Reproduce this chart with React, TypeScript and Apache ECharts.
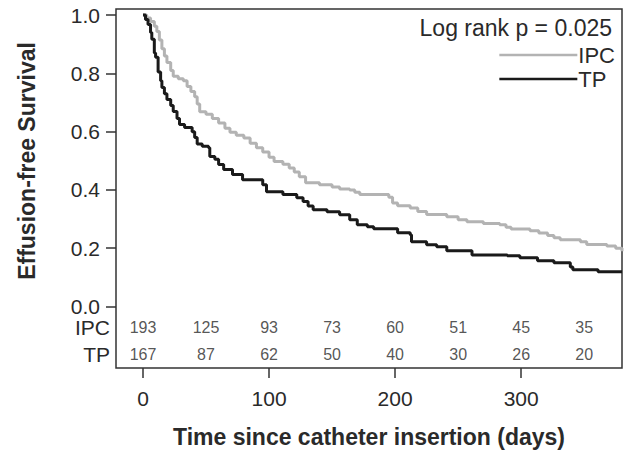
import React, { useEffect, useRef } from "react";
import * as echarts from "echarts";

// Kaplan-Meier steps (time in days, survival)
const ipcTimes = [0, 3, 6, 9, 11, 13, 15, 17, 19, 22, 24, 28, 32, 35, 38, 41, 43, 45, 50, 55, 60, 65, 69, 74, 80, 85, 90, 95, 100, 104, 111, 116, 120, 124, 129, 140, 150, 156, 164, 168, 172, 195, 198, 202, 212, 218, 225, 241, 250, 257, 270, 283, 288, 292, 307, 314, 321, 326, 331, 347, 352, 368, 375, 380];
const ipcSurv = [1.0, 0.99, 0.978, 0.962, 0.944, 0.915, 0.885, 0.86, 0.837, 0.81, 0.79, 0.782, 0.775, 0.755, 0.738, 0.72, 0.695, 0.668, 0.66, 0.645, 0.63, 0.612, 0.598, 0.588, 0.578, 0.56, 0.545, 0.53, 0.512, 0.498, 0.488, 0.475, 0.462, 0.445, 0.425, 0.418, 0.41, 0.403, 0.4, 0.392, 0.384, 0.375, 0.355, 0.346, 0.338, 0.326, 0.316, 0.308, 0.298, 0.291, 0.285, 0.281, 0.272, 0.266, 0.26, 0.252, 0.244, 0.236, 0.229, 0.222, 0.213, 0.208, 0.2, 0.19];

const tpTimes = [0, 2, 4, 6, 7, 9, 10, 12, 14, 15, 17, 19, 22, 24, 27, 29, 33, 39, 41, 43, 47, 52, 53, 57, 60, 64, 71, 79, 95, 98, 111, 122, 127, 131, 135, 146, 156, 164, 170, 178, 183, 202, 212, 213, 225, 233, 241, 261, 289, 299, 313, 326, 339, 341, 361, 380];
const tpSurv = [1.0, 0.985, 0.968, 0.94, 0.917, 0.87, 0.855, 0.805, 0.775, 0.752, 0.73, 0.71, 0.69, 0.669, 0.645, 0.625, 0.614, 0.6, 0.58, 0.558, 0.55, 0.545, 0.515, 0.505, 0.487, 0.47, 0.453, 0.435, 0.418, 0.394, 0.384, 0.373, 0.36, 0.345, 0.332, 0.325, 0.315, 0.298, 0.281, 0.274, 0.267, 0.253, 0.246, 0.222, 0.212, 0.205, 0.191, 0.177, 0.174, 0.167, 0.157, 0.15, 0.136, 0.126, 0.119, 0.119];

// Number at risk table
const riskTimes = [0, 50, 100, 150, 200, 250, 300, 350];
const ipcRisk = [193, 125, 93, 73, 60, 51, 45, 35];
const tpRisk = [167, 87, 62, 50, 40, 30, 26, 20];
const riskRowY = { IPC: -0.073, TP: -0.166 };

const xTicks = [0, 100, 200, 300];
const yTicks = [0, 0.2, 0.4, 0.6, 0.8, 1.0];

const seriesNames = ["IPC", "TP"];
const pValueText = "Log rank p = 0.025";
const xTitle = "Time since catheter insertion (days)";
const yTitle = "Effusion-free Survival";

const FONT = "'Liberation Sans', Arial, Helvetica, sans-serif";
const TXT = "#2a2a2a";

export default function App() {
  const ref = useRef<HTMLDivElement>(null);

  useEffect(() => {
    if (!ref.current) return;
    const chart = echarts.init(ref.current, undefined, { renderer: "svg" });

    const ipcData = ipcTimes.map((t, i) => [t, ipcSurv[i]]);
    const tpData = tpTimes.map((t, i) => [t, tpSurv[i]]);
    const riskData = [
      ...riskTimes.map((t, i) => [t, riskRowY.IPC, ipcRisk[i]]),
      ...riskTimes.map((t, i) => [t, riskRowY.TP, tpRisk[i]]),
    ];

    chart.setOption({
      animation: false,
      backgroundColor: "#ffffff",
      textStyle: { fontFamily: FONT, color: TXT },
      title: {
        text: pValueText,
        right: 20,
        top: 11,
        textStyle: { fontFamily: FONT, fontSize: 23, fontWeight: "normal", color: TXT },
      },
      legend: {
        data: seriesNames,
        orient: "vertical",
        right: 22,
        top: 43,
        padding: 0,
        icon: "rect",
        itemWidth: 78,
        itemHeight: 2.5,
        itemGap: 0,
        align: "left",
        textStyle: { fontFamily: FONT, fontSize: 22, lineHeight: 24, color: TXT, padding: [0, 0, 0, -4] },
      },
      grid: {
        left: 116,
        right: 15,
        top: 9,
        bottom: 92,
        show: true,
        borderColor: "#333",
        borderWidth: 1.5,
        backgroundColor: "transparent",
      },
      xAxis: {
        type: "value",
        min: -21.4,
        max: 380,
        axisLine: { show: false, onZero: false },
        splitLine: { show: false },
        axisTick: {
          show: true,
          inside: false,
          length: 10,
          customValues: xTicks,
          lineStyle: { color: "#333", width: 1.5 },
        },
        axisLabel: {
          customValues: xTicks,
          margin: 20,
          fontFamily: FONT,
          fontSize: 21,
          color: TXT,
        },
        name: xTitle,
        nameLocation: "middle",
        nameGap: 57,
        nameTextStyle: { fontFamily: FONT, fontSize: 23, fontWeight: "bold", color: TXT },
      },
      yAxis: {
        type: "value",
        min: -0.211,
        max: 1.021,
        axisLine: { show: false, onZero: false },
        splitLine: { show: false },
        axisTick: {
          show: true,
          inside: false,
          length: 10,
          customValues: yTicks,
          lineStyle: { color: "#333", width: 1.5 },
        },
        axisLabel: {
          customValues: [riskRowY.TP, riskRowY.IPC, ...yTicks],
          margin: 6,
          fontFamily: FONT,
          fontSize: 21,
          color: TXT,
          formatter: (v: number) => {
            if (v < -0.12) return "{r|TP}";
            if (v < -0.01) return "{r|IPC}";
            return "{n|" + v.toFixed(1) + "}";
          },
          rich: {
            n: { fontFamily: FONT, fontSize: 21, color: TXT, padding: [0, 10, 0, 0] },
            r: { fontFamily: FONT, fontSize: 21, color: TXT },
          },
        },
      },
      graphic: [
        {
          type: "text",
          x: 27,
          y: 161,
          rotation: Math.PI / 2,
          style: {
            text: yTitle,
            fontFamily: FONT,
            fontSize: 23,
            fontWeight: "bold",
            fill: TXT,
            align: "center",
            verticalAlign: "middle",
          },
        },
      ],
      series: [
        {
          name: "IPC",
          type: "line",
          step: "end",
          data: ipcData,
          symbol: "none",
          lineStyle: { color: "#b3b3b3", width: 3 },
          itemStyle: { color: "#b3b3b3" },
          z: 3,
        },
        {
          name: "TP",
          type: "line",
          step: "end",
          data: tpData,
          symbol: "none",
          lineStyle: { color: "#1a1a1a", width: 3 },
          itemStyle: { color: "#1a1a1a" },
          z: 4,
        },
        {
          name: "risk",
          type: "scatter",
          data: riskData,
          symbolSize: 1,
          itemStyle: { color: "rgba(0,0,0,0)" },
          label: {
            show: true,
            position: "inside",
            formatter: (p: any) => String(p.value[2]),
            fontFamily: FONT,
            fontSize: 16,
            color: TXT,
          },
          silent: true,
          z: 5,
        },
      ],
    });

    return () => chart.dispose();
  }, []);

  return (
    <div
      ref={ref}
      style={{ position: "fixed", left: 0, top: 0, width: 637, height: 460, background: "#fff" }}
    />
  );
}
